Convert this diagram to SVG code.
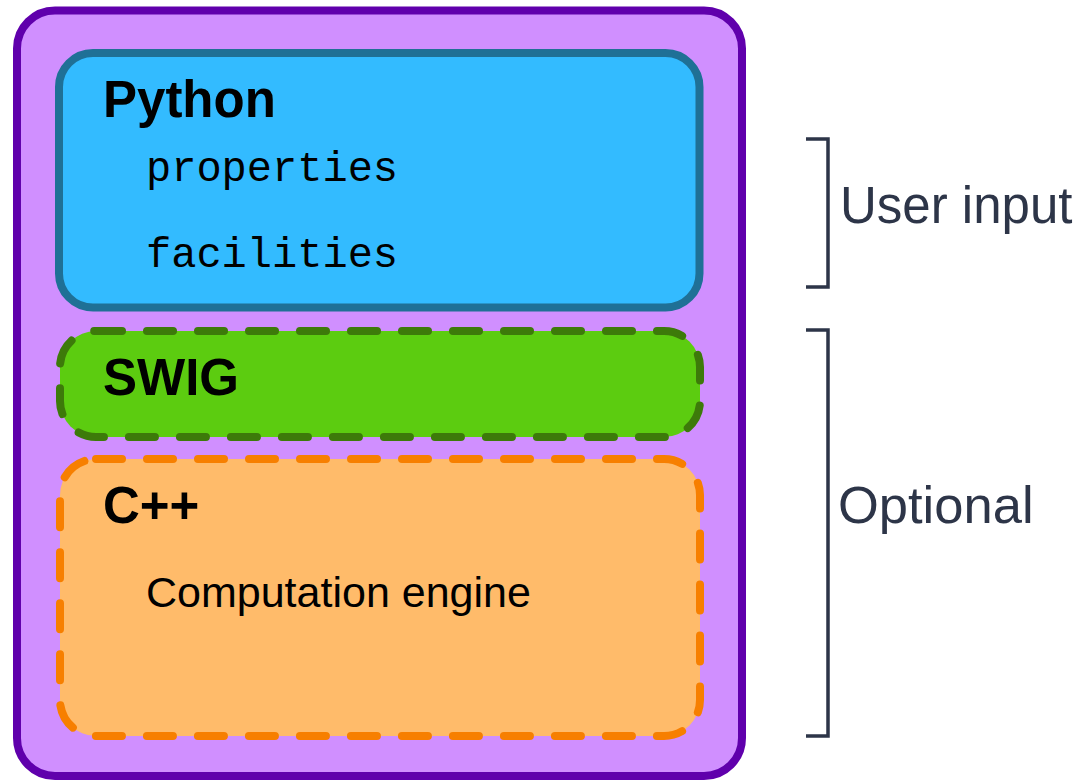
<svg xmlns="http://www.w3.org/2000/svg" width="1085" height="780" viewBox="0 0 1085 780">
<style>
.title{font-family:"Liberation Sans",Arial,sans-serif;font-weight:bold;font-size:51px;fill:#000}
.mono{font-family:"Liberation Mono","Courier New",monospace;font-size:42px;fill:#000}
.body{font-family:"Liberation Sans",Arial,sans-serif;font-size:43px;fill:#000}
.side{font-family:"Liberation Sans",Arial,sans-serif;fill:#2d3548}
.bracket{fill:none;stroke:#2d3548;stroke-width:3.5}
.dash{stroke-width:8;stroke-dasharray:26 25;stroke-linecap:round}
</style>
<rect width="1085" height="780" fill="#ffffff"/>
<g id="container">
<rect x="17" y="10.5" width="725" height="765.5" rx="38" fill="#d08fff" stroke="#6000ac" stroke-width="8"/>
</g>
<g id="python">
<rect x="59" y="53" width="640.5" height="254.5" rx="34" fill="#33bbff" stroke="#1f7096" stroke-width="8"/>
<text class="title" x="103" y="117">Python</text>
<text class="mono" x="146" y="181">properties</text>
<text class="mono" x="146" y="267">facilities</text>
</g>
<g id="swig">
<rect x="60" y="331" width="640" height="106" rx="36" fill="#5ccc10" stroke="#3d7a0a" class="dash"/>
<text class="title" x="103" y="395">SWIG</text>
</g>
<g id="cpp">
<rect x="60" y="459" width="640" height="277" rx="36" fill="#ffbb6a" stroke="#f77f00" class="dash"/>
<text class="title" x="103" y="523">C++</text>
<text class="body" x="146" y="607">Computation engine</text>
</g>
<g id="connectors">
<path class="bracket" d="M806 139 H828 V287 H806"/>
<path class="bracket" d="M806 330 H828 V736 H806"/>
</g>
<g id="labels">
<text class="side" x="840" y="223" font-size="51">User input</text>
<text class="side" x="838" y="523" font-size="52.5">Optional</text>
</g>
</svg>
